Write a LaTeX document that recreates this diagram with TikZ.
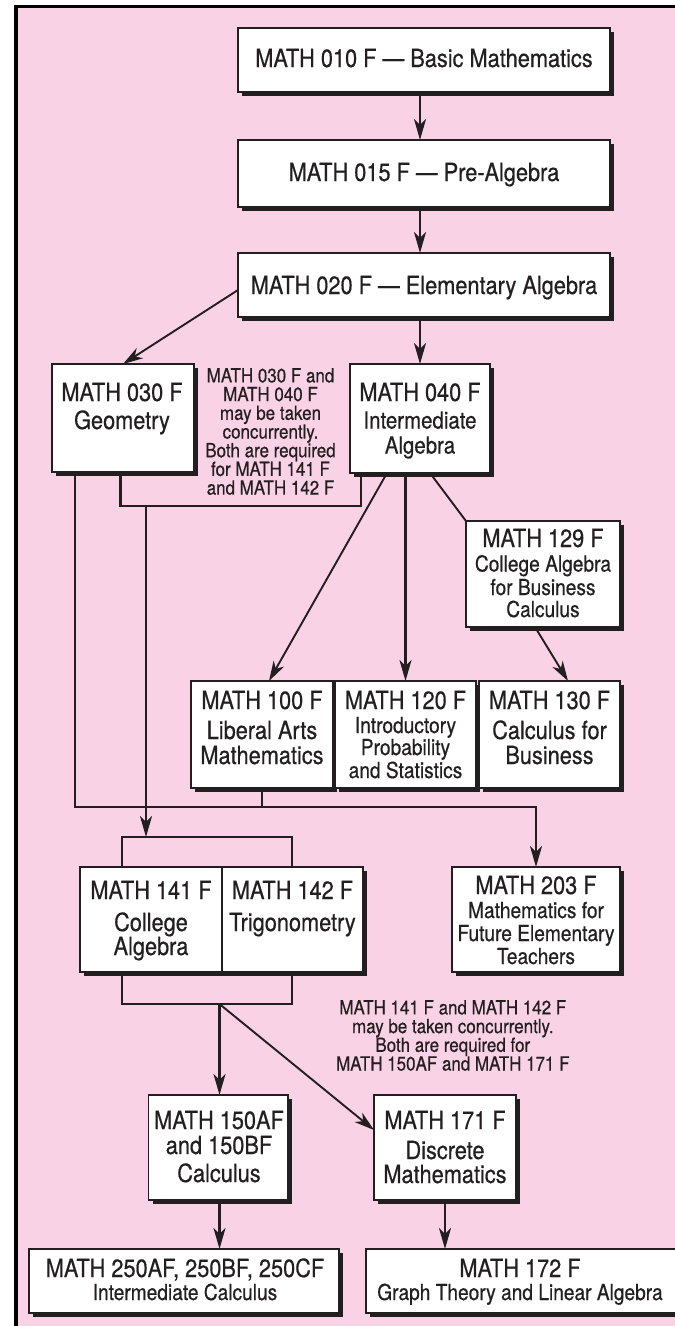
\documentclass[tikz,border=0pt]{standalone}
\usepackage{fontspec}
\setmainfont{TeX Gyre Heros}[FakeStretch=0.87, FakeBold=0.5]
\usetikzlibrary{arrows.meta,shadows,fit}
\definecolor{pinkbg}{RGB}{249,211,229}
\definecolor{ink}{RGB}{35,31,32}
\begin{document}
\lineskiplimit=-30pt\relax
\begin{tikzpicture}[x=1pt,y=-1pt,
  box/.style={draw=ink, line width=1.3pt, fill=white, inner sep=0pt, outer sep=0pt,
    drop shadow={shadow xshift=4pt, shadow yshift=-4pt, fill=ink, opacity=1}},
  tb/.style={font=\fontsize{25}{28}\selectfont, text=ink, anchor=base, inner sep=0pt},
  tm/.style={font=\fontsize{23.5}{26}\selectfont, text=ink, anchor=base, inner sep=0pt},
  ts/.style={font=\fontsize{22}{24}\selectfont, text=ink, anchor=base, inner sep=0pt},
  note/.style={font=\fontsize{19.5}{18.7}\selectfont, text=ink, align=center, anchor=north, inner sep=0pt},
  ln/.style={draw=ink, line width=2.6pt},
  lnthin/.style={draw=ink, line width=1.9pt},
  arr/.style={ln, -{Stealth[length=21pt,width=12pt,inset=6pt]}},
  arrthin/.style={lnthin, -{Stealth[length=20pt,width=12pt,inset=6pt]}}
]
\useasboundingbox (0,0) rectangle (675,1326);
\fill[white] (0,0) rectangle (675,1326);
\fill[pinkbg] (16,6.5) rectangle (690,1340);
\draw[line width=3.5pt, draw=black] (16,1340) -- (16,6.5) -- (690,6.5);

% boxes
\node[box, fit={(238,28)(610,92)}] (b010) {};
\node[box, fit={(238,140)(610,207)}] (b015) {};
\node[box, fit={(238,253)(610,317)}] (b020) {};
\node[box, fit={(52,364)(194,472)}] (b030) {};
\node[box, fit={(350,364)(490,473)}] (b040) {};
\node[box, fit={(466,521)(620,627)}] (b129) {};
\node[box, fit={(191,681)(333,788)}] (b100) {};
\node[box, fit={(335,681)(476,788)}] (b120) {};
\node[box, fit={(479,681)(620,788)}] (b130) {};
\node[box, fit={(80,867)(363,972)}] (b14) {};
\node[box, fit={(452,867)(620,972)}] (b203) {};
\node[box, fit={(148.5,1095)(288,1200)}] (b150) {};
\node[box, fit={(374,1095)(516,1200)}] (b171) {};
\node[box, fit={(29,1249)(339,1313)}] (b250) {};
\node[box, fit={(366,1249)(690,1313)}] (b172) {};
\coordinate (dv) at (222,0);
\draw[draw=ink, line width=1.3pt] (b14.north -| dv) -- (b14.south -| dv);

% texts
\node[tb] (t010) at (424,67) {MATH 010 F — Basic Mathematics};
\node[tb] (t015) at (424,181) {MATH 015 F — Pre-Algebra};
\node[tb] (t020) at (424,294) {MATH 020 F — Elementary Algebra};
\node[tb] (t030a) at (122,401) {MATH 030 F};
\node[tb] (t030b) at (122,429) {Geometry};
\node[tb] (t040a) at (420,401) {MATH 040 F};
\node[tm] (t040b) at (420,428.5) {Intermediate};
\node[tm] (t040c) at (420,453.5) {Algebra};
\node[tb] (t129a) at (543,547) {MATH 129 F};
\node[ts] (t129b) at (543,571.5) {College Algebra};
\node[ts] (t129c) at (543,595) {for Business};
\node[ts] (t129d) at (543,617) {Calculus};
\node[tb] (t100a) at (262,709) {MATH 100 F};
\node[tb] (t100b) at (262,739) {Liberal Arts};
\node[tb] (t100c) at (262,764) {Mathematics};
\node[tb] (t120a) at (405.5,709) {MATH 120 F};
\node[ts] (t120b) at (405.5,733) {Introductory};
\node[ts] (t120c) at (405.5,755) {Probability};
\node[ts] (t120d) at (405.5,778) {and Statistics};
\node[tb] (t130a) at (549.5,709) {MATH 130 F};
\node[tb] (t130b) at (549.5,739) {Calculus for};
\node[tb] (t130c) at (549.5,764) {Business};
\node[tb] (t141a) at (151,899) {MATH 141 F};
\node[tb] (t141b) at (151,931) {College};
\node[tb] (t141c) at (151,955) {Algebra};
\node[tb] (t142a) at (292.5,899) {MATH 142 F};
\node[tb] (t142b) at (292.5,931) {Trigonometry};
\node[tb] (t203a) at (536,894) {MATH 203 F};
\node[ts] (t203b) at (536,918) {Mathematics for};
\node[ts] (t203c) at (536,941) {Future Elementary};
\node[ts] (t203d) at (536,964) {Teachers};
\node[tb] (t150a) at (219,1129) {MATH 150AF};
\node[tb] (t150b) at (219,1154) {and 150BF};
\node[tb] (t150c) at (219,1182) {Calculus};
\node[tb] (t171a) at (445,1129) {MATH 171 F};
\node[tb] (t171b) at (445,1159) {Discrete};
\node[tb] (t171c) at (445,1183) {Mathematics};
\node[tb] (t250a) at (185,1277) {MATH 250AF, 250BF, 250CF};
\node[ts] (t250b) at (185,1300) {Intermediate Calculus};
\node[tb] (t172a) at (520,1277) {MATH 172 F};
\node[ts] (t172b) at (520,1300) {Graph Theory and Linear Algebra};

\node[note] (n1) at (270.5,368) {MATH 030 F and\\MATH 040 F\\may be taken\\concurrently.\\Both are required\\for MATH 141 F\\and MATH 142 F};
\node[note] (n2) at (452.8,1000) {MATH 141 F and MATH 142 F\\may be taken concurrently.\\Both are required for\\MATH 150AF and MATH 171 F};

% junction coordinates
\coordinate (hL) at (75,807);
\coordinate (gL) at (120.5,506);
\coordinate (gR) at (361,506);
\coordinate (gM) at (146,506);
\coordinate (kL) at (122,837);
\coordinate (kR) at (292,837);
\coordinate (kM) at (146,837);
\coordinate (mL) at (122,1004);
\coordinate (mR) at (292,1004);
\coordinate (mM) at (219.5,1004);

% connectors
\draw[arr] (b010.south -| b040.north) -- (b015.north -| b040.north);
\draw[arr] (b015.south -| b040.north) -- (b020.north -| b040.north);
\draw[arr] (b020.south -| b040.north) -- (b040.north);
\draw[arrthin] ([yshift=-5pt]b020.west) -- (b030.north);
\draw[arr] (b030.south -| hL) -- (hL) -- (hL -| b203.north) -- (b203.north);
\draw[ln] (b100.south) -- (b100.south |- hL);
\draw[ln] (b030.south -| gL) -- (gL) -- (gR) -- (b040.south -| gR);
\draw[arr] (gM) -- (kM);
\draw[ln] (b14.north -| kL) -- (kL) -- (kR) -- (b14.north -| kR);
\draw[ln] (b14.south -| mL) -- (mL) -- (mR) -- (b14.south -| mR);
\draw[arr] (mM) -- (b150.north -| mM);
\draw[arrthin] (mM) -- ([yshift=17.5pt]b171.west);
\draw[arrthin] ([xshift=-33pt]b040.south) -- ([xshift=7pt]b100.north);
\draw[arr] (b120.north |- b040.south) -- (b120.north);
\draw[lnthin] ([xshift=10pt]b040.south) -- (b129.north west);
\draw[arrthin] ([xshift=-8pt]b129.south) -- ([xshift=18.5pt]b130.north);
\draw[arr] (b150.south -| mM) -- (b250.north -| mM);
\draw[arr] (b171.south) -- (b172.north -| b171.south);
\end{tikzpicture}
\end{document}
